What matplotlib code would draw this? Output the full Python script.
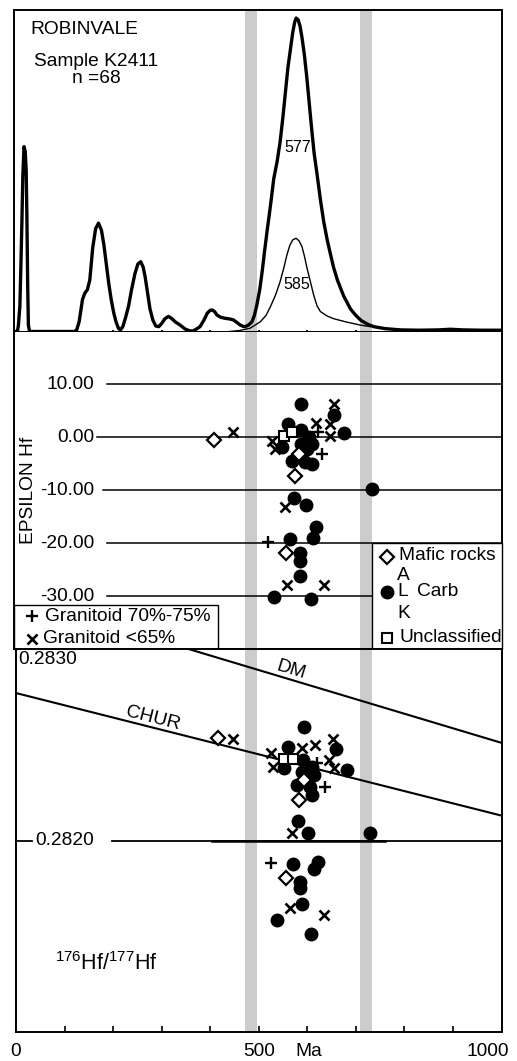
import matplotlib
matplotlib.use('Agg')
import matplotlib.pyplot as plt
from matplotlib.patches import Rectangle

plt.rcParams['font.family'] = ['Liberation Sans', 'DejaVu Sans']
plt.rcParams['mathtext.fontset'] = 'custom'
plt.rcParams['mathtext.rm'] = 'Liberation Sans'

# ---------------- data ----------------
# probability density (all grains), age in Ma, relative height
pdf_age = [0, 3, 5, 8, 10, 12, 14, 16.5, 19, 21, 22.5, 24, 25.5, 28, 120, 125, 130, 133, 137,
           142, 147, 152, 158, 164, 170, 176, 181, 186, 191, 196, 201, 206, 211, 215, 220,
           226, 232, 238, 245, 251, 257, 262, 266, 271, 276, 282, 288, 294, 300, 307, 314,
           321, 328, 338, 348, 358, 365, 372, 379, 387, 394, 400, 404, 409, 414, 422, 431,
           440, 448, 455, 462, 468, 472, 479, 486, 491, 496, 502, 507, 512, 517, 524, 531,
           538, 544, 550, 555, 560, 565, 570, 574, 577, 581, 585, 589, 594, 599, 604, 609,
           614, 620, 627, 634, 641, 647, 654, 662, 675, 689, 700, 711, 725, 737, 760, 792,
           830, 870, 895, 920, 960, 1000]
pdf_all = [0, 0, 0.02, 0.08, 0.2, 0.33, 0.48, 0.575, 0.56, 0.5, 0.35, 0.15, 0.02, 0, 0, 0.005,
           0.03, 0.06, 0.1, 0.12, 0.13, 0.16, 0.26, 0.32, 0.337, 0.315, 0.27, 0.21, 0.15, 0.1,
           0.06, 0.03, 0.01, 0.005, 0.015, 0.045, 0.08, 0.13, 0.18, 0.21, 0.217, 0.2, 0.17,
           0.12, 0.07, 0.035, 0.017, 0.015, 0.025, 0.04, 0.047, 0.04, 0.03, 0.02, 0.008,
           0.002, 0.002, 0.008, 0.015, 0.035, 0.057, 0.066, 0.067, 0.062, 0.051, 0.044,
           0.041, 0.039, 0.036, 0.028, 0.02, 0.016, 0.015, 0.02, 0.03, 0.05, 0.082, 0.13,
           0.186, 0.25, 0.31, 0.39, 0.476, 0.53, 0.59, 0.67, 0.745, 0.82, 0.875, 0.93, 0.962,
           0.975, 0.97, 0.95, 0.915, 0.86, 0.79, 0.71, 0.63, 0.555, 0.49, 0.41, 0.34, 0.285,
           0.245, 0.2, 0.16, 0.11, 0.07, 0.05, 0.034, 0.022, 0.015, 0.009, 0.005, 0.004,
           0.005, 0.007, 0.005, 0.004, 0.004]
# probability density (Hf-analysed subset)
sub_age = [440, 460, 482, 503, 515, 524, 535, 544, 552, 558, 564, 570, 577, 583, 589, 594,
           599, 606, 613, 620, 627, 641, 654, 679, 709, 730]
sub_dens = [0.0, 0.003, 0.01, 0.03, 0.05, 0.077, 0.115, 0.155, 0.2, 0.238, 0.268, 0.285, 0.29,
            0.282, 0.264, 0.235, 0.2, 0.157, 0.114, 0.08, 0.062, 0.048, 0.04, 0.03, 0.02, 0.015]
peak_labels = ['577', '585']
bands = [(471, 497), (709, 734)]

eps_levels = [10, 0, -10, -20, -30]
eps_tick_labels = ['10.00', '0.00', '-10.00', '-20.00', '-30.00']

# epsilon Hf panel
eps_carb_age = [588, 654, 561, 586, 675, 603, 548, 586, 599, 610, 568, 596, 610, 586, 733,
                573, 598, 617, 612, 565, 584, 584, 584, 532, 608]
eps_carb = [6.3, 4.3, 2.5, 1.4, 0.8, 0.0, -1.9, -1.3, -2.2, -1.3, -4.4, -4.7, -5.1, -3.8, -9.8,
            -11.4, -12.8, -16.9, -19.0, -19.3, -21.8, -23.3, -26.2, -30.2, -30.5]
eps_g65_age = [446, 654, 647, 617, 647, 527, 534, 555, 559, 635]
eps_g65 = [1.1, 6.3, 2.5, 2.8, 0.3, -0.6, -2.2, -13.2, -27.9, -27.9]
eps_g70_age = [623, 630, 520]
eps_g70 = [1.0, -3.2, -19.8]
eps_mafic_age = [408, 582, 575, 557]
eps_mafic = [-0.5, -3.2, -7.3, -21.8]
eps_uncl_age = [551, 568]
eps_uncl = [0.3, 1.0]

# 176Hf/177Hf panel
hf_carb_age = [594, 660, 560, 592, 551, 682, 610, 589, 613, 579, 606, 610, 581, 601, 730, 570,
               623, 613, 584, 584, 589, 537, 608]
hf_carb = [0.282591, 0.282476, 0.282487, 0.282420, 0.282377, 0.282368, 0.282385, 0.282359,
           0.282342, 0.282290, 0.282281, 0.282238, 0.282100, 0.282041, 0.282041, 0.281877,
           0.281889, 0.281850, 0.281785, 0.281750, 0.281668, 0.281585, 0.281512]
hf_g65_age = [446, 653, 616, 589, 525, 644, 530, 654, 568, 564, 635]
hf_g65 = [0.282530, 0.282531, 0.282499, 0.282481, 0.282458, 0.282420, 0.282385, 0.282377,
          0.282038, 0.281646, 0.281611]
hf_g70_age = [637, 525, 621]
hf_g70 = [0.282281, 0.281884, 0.282405]
hf_mafic_age = [417, 594, 582, 556]
hf_mafic = [0.282534, 0.282316, 0.282213, 0.281805]
hf_uncl_age = [553, 571]
hf_uncl = [0.282424, 0.282424]

chur_age = [0, 1000]
chur_val = [0.28277, 0.28213]
dm_age = [0, 1000]
dm_val = [0.28327, 0.28251]

x_ticks = [0, 100, 200, 300, 400, 500, 600, 700, 800, 900, 1000]

# ---------------- styles ----------------
FS = 13.8
W, H = 517, 1061
GRAY = '#cccccc'
st_carb = dict(ls='none', marker='o', ms=9.0, mfc='black', mec='black')
st_g65 = dict(ls='none', marker='x', ms=6.8, mew=1.9, color='black')
st_g70 = dict(ls='none', marker='+', ms=9.0, mew=1.7, color='black')
st_mafic = dict(ls='none', marker='D', ms=7.0, mew=1.6, mfc='white', mec='black')
st_uncl = dict(ls='none', marker='s', ms=7.0, mew=1.5, mfc='white', mec='black')

fig = plt.figure(figsize=(W / 100, H / 100), dpi=100)


def fx(px):
    return px / W


def fy(py):
    return 1 - py / H


ax_top = fig.add_axes([fx(14), fy(331.5), fx(501.5) - fx(14), (331.5 - 10) / H])
ax_mid = fig.add_axes([fx(14), fy(649), fx(501.5) - fx(14), (649 - 331.5) / H])
ax_bot = fig.add_axes([fx(16), fy(1032), fx(501.5) - fx(16), (1032 - 649) / H])

xl = (-4.12, 1000)
for ax in (ax_top, ax_mid):
    ax.set_xlim(*xl)
ax_bot.set_xlim(0, 1000)

for ax in (ax_top, ax_mid, ax_bot):
    for a, b in bands:
        ax.axvspan(a, b, color=GRAY, lw=0, zorder=0)
    for s in ax.spines.values():
        s.set_linewidth(1.4)

# ---------- top panel ----------
ax_top.set_ylim(0, 1)
ax_top.plot(pdf_age, pdf_all, color='black', lw=2.4, zorder=3, solid_joinstyle='round')
ax_top.plot(sub_age, sub_dens, color='black', lw=1.0, zorder=3)
ax_top.set_yticks([])
ax_top.set_xticks(x_ticks[1:-1])
ax_top.tick_params(axis='x', direction='inout', length=3, width=1.3, labelbottom=False)
ax_top.text(28.8, 0.94, 'ROBINVALE', fontsize=FS, ha='left', va='center')
ax_top.text(164, 0.839, 'Sample K2411', fontsize=FS, ha='center', va='center')
ax_top.text(165, 0.788, 'n =68', fontsize=FS, ha='center', va='center')
ax_top.text(580, 0.571, peak_labels[0], fontsize=11.5, ha='center', va='center')
ax_top.text(578, 0.145, peak_labels[1], fontsize=11.5, ha='center', va='center')

# ---------- middle panel ----------
ax_mid.set_ylim(-40, 20)
ax_mid.set_xticks([])
ax_mid.set_yticks([])
ax_mid.spines['top'].set_visible(False)
line_starts = [187, 166, 180, 187, 187]
for lev, lab, xs in zip(eps_levels, eps_tick_labels, line_starts):
    ax_mid.plot([xs, 1000], [lev, lev], color='black', lw=1.1, zorder=1)
    ax_mid.text(161, lev, lab, fontsize=FS, ha='right', va='center')
ax_mid.text(26, -10, 'EPSILON Hf', fontsize=FS, rotation=90, ha='center', va='center')

ax_mid.plot(eps_carb_age, eps_carb, zorder=4, **st_carb)
ax_mid.plot(eps_g65_age, eps_g65, zorder=5, **st_g65)
ax_mid.plot(eps_g70_age, eps_g70, zorder=5, **st_g70)
ax_mid.plot(eps_mafic_age, eps_mafic, zorder=5, **st_mafic)
ax_mid.plot(eps_uncl_age, eps_uncl, zorder=5, **st_uncl)

# legends
ax_mid.add_patch(Rectangle((733, -40), 268, 20, facecolor='white', edgecolor='black',
                           lw=1.0, zorder=6, clip_on=False))
ax_mid.add_patch(Rectangle((-4.12, -40), 420, 8.3, facecolor='white', edgecolor='black',
                           lw=1.0, zorder=6, clip_on=False))
lg = dict(zorder=7, clip_on=False)
ax_mid.plot([763.5], [-22.6], **st_mafic, **lg)
ax_mid.text(789.5, -22.4, 'Mafic rocks', fontsize=FS, ha='left', va='center', zorder=7)
ax_mid.text(784, -26.1, 'A', fontsize=FS, ha='left', va='center', zorder=7)
ax_mid.plot([763.5], [-29.2], **st_carb, **lg)
ax_mid.text(786, -29.2, 'L', fontsize=FS, ha='left', va='center', zorder=7)
ax_mid.text(825, -29.2, 'Carb', fontsize=FS, ha='left', va='center', zorder=7)
ax_mid.text(786, -33.2, 'K', fontsize=FS, ha='left', va='center', zorder=7)
ax_mid.plot([763.5], [-37.9], **st_uncl, **lg)
ax_mid.text(789.5, -37.9, 'Unclassified', fontsize=FS, ha='left', va='center', zorder=7)

ax_mid.plot([32], [-33.8], **st_g70, **lg)
ax_mid.text(60, -33.8, 'Granitoid 70%-75%', fontsize=FS, ha='left', va='center', zorder=7)
ax_mid.plot([32], [-38.1], **st_g65, **lg)
ax_mid.text(56, -38.1, 'Granitoid <65%', fontsize=FS, ha='left', va='center', zorder=7)

# ---------- bottom panel ----------
ax_bot.set_ylim(0.2810, 0.2830)
ax_bot.set_yticks([])
ax_bot.set_xticks(x_ticks)
ax_bot.tick_params(axis='x', direction='in', length=4, width=1.2, labelbottom=False)
ax_bot.plot(chur_age, chur_val, color='black', lw=1.5, zorder=2)
ax_bot.plot(dm_age, dm_val, color='black', lw=1.5, zorder=2)
ax_bot.text(282, 0.282640, 'CHUR', fontsize=FS, rotation=-14.2, ha='center', va='center',
            rotation_mode='anchor')
ax_bot.text(566, 0.282890, 'DM', fontsize=FS, rotation=-17, ha='center', va='center',
            rotation_mode='anchor')
ax_bot.plot([0, 32], [0.2820, 0.2820], color='black', lw=1.3)
ax_bot.plot([197, 1000], [0.2820, 0.2820], color='black', lw=1.3, zorder=1)
ax_bot.plot([403, 760], [0.2820, 0.2820], color='black', lw=1.8, zorder=1)
ax_bot.text(100, 0.2820, '0.2820', fontsize=FS, ha='center', va='center')
ax_bot.text(4.8, 0.282943, '0.2830', fontsize=FS, ha='left', va='center')
ax_bot.text(80, 0.28136, r'$\mathregular{^{176}Hf/^{177}Hf}$', fontsize=15.5, ha='left',
            va='center')

ax_bot.plot(hf_carb_age, hf_carb, zorder=4, **st_carb)
ax_bot.plot(hf_g65_age, hf_g65, zorder=5, **st_g65)
ax_bot.plot(hf_g70_age, hf_g70, zorder=5, **st_g70)
ax_bot.plot(hf_mafic_age, hf_mafic, zorder=5, **st_mafic)
ax_bot.plot(hf_uncl_age, hf_uncl, zorder=5, **st_uncl)

tr = ax_bot.get_xaxis_transform()
yl = -0.0514
ax_bot.text(0, yl, '0', fontsize=FS, ha='center', va='center', transform=tr)
ax_bot.text(500, yl, '500', fontsize=FS, ha='center', va='center', transform=tr)
ax_bot.text(603, yl, 'Ma', fontsize=FS, ha='center', va='center', transform=tr)
ax_bot.text(971, yl, '1000', fontsize=FS, ha='center', va='center', transform=tr)

fig.savefig('out.png', dpi=100)
